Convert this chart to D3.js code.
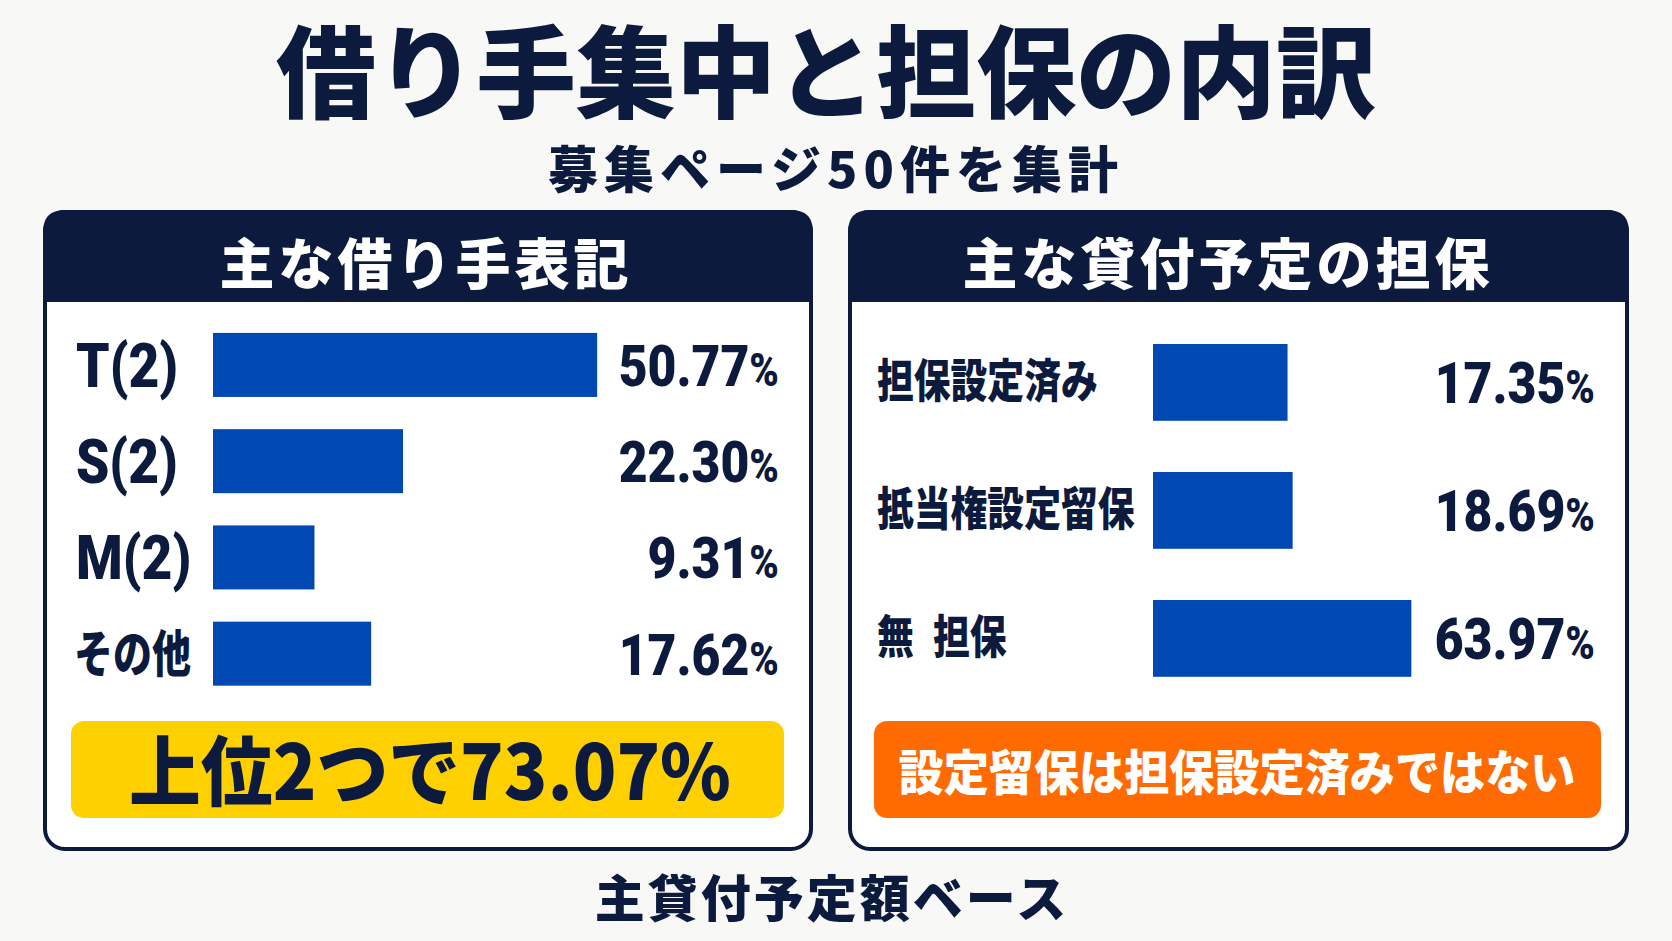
<!DOCTYPE html>
<html lang="ja">
<head>
<meta charset="utf-8">
<script src="https://cdn.jsdelivr.net/npm/d3@7"></script>
<style>
  html, body { margin: 0; padding: 0; background: #f7f7f6; }
  svg { display: block; }
</style>
</head>
<body>
<script>
// data
const borrowerLabels = ["T(2)", "S(2)", "M(2)", "その他"]
const borrowerShares = [50.77, 22.30, 9.31, 17.62]
const collateralLabels = ["担保設定済み", "抵当権設定留保", "無 担保"]
const collateralShares = [17.35, 18.69, 63.97]
const topTwoShare = 73.07

const W = 1672, H = 941
const navy = "#0c1a3d"
const blue = "#0048b4"
const cjk = "'Noto Sans CJK JP', 'Noto Sans CJK SC', sans-serif"
const latin = "Roboto, 'Liberation Sans', sans-serif"

const svg = d3.select("body").append("svg")
    .attr("width", W)
    .attr("height", H)

svg.append("rect")
    .attr("width", W)
    .attr("height", H)
    .attr("fill", "#f8f8f7")

// little helper so condensed text can be squeezed horizontally
function label(g, x, y, txt, o) {
    let t = g.append("g")
        .attr("transform", `translate(${x},${y}) scale(${o.sx || 1},1)`)
        .append("text")
        .attr("text-anchor", o.anchor || "start")
        .attr("font-family", o.font || cjk)
        .attr("font-weight", o.weight || 700)
        .attr("font-size", o.size)
        .attr("letter-spacing", o.ls || 0)
        .attr("fill", o.fill || navy)
    // a space in a label is drawn as a wider gap, as in the picture
    let parts = txt.split(" ")
    t.text(parts[0])
    parts.slice(1).forEach(p => t.append("tspan").attr("dx", o.gap || 10).text(p))
    return t
}

function pctText(g, x, y, v, o) {
    let t = label(g, x, y, v.toFixed(2), o)
    t.append("tspan")
        .attr("font-size", o.size * 0.8)
        .text("%")
    return t
}

// title + subtitle
label(svg, 826, 110, "借り手集中と担保の内訳", {anchor: "middle", size: 100, weight: 900})
label(svg, 836, 188, "募集ページ50件を集計", {anchor: "middle", size: 50, weight: 900, ls: 6})

// panels
function panel(x0, x1, title, titleX) {
    let g = svg.append("g")
    g.append("rect")
        .attr("x", x0)
        .attr("y", 212)
        .attr("width", x1 - x0)
        .attr("height", 637)
        .attr("rx", 20)
        .attr("fill", "#fff")
        .attr("stroke", navy)
        .attr("stroke-width", 4)
    g.append("path")
        .attr("fill", navy)
        .attr("d", `M${x0 - 2},302 V232 Q${x0 - 2},210 ${x0 + 20},210 H${x1 - 20} Q${x1 + 2},210 ${x1 + 2},232 V302 Z`)
    label(g, titleX, 284, title, {anchor: "middle", size: 55, weight: 900, ls: 4, fill: "#fff"})
    return g
}

let left = panel(45, 811, "主な借り手表記", 426)
let right = panel(850, 1627, "主な貸付予定の担保", 1228)

// left bars
let yL = d3.scaleBand()
    .domain(borrowerLabels)
    .range([316.8, 701.8])
    .paddingInner(0.335)
    .paddingOuter(0.1675)
let xL = d3.scaleLinear()
    .domain([0, 55])
    .range([38, 413])

let rowsL = left.selectAll("g.row")
    .data(borrowerLabels.map((k, i) => ({k: k, v: borrowerShares[i]})))
    .join("g")
    .attr("class", "row")

rowsL.append("rect")
    .attr("x", 213)
    .attr("y", d => yL(d.k))
    .attr("width", d => xL(d.v))
    .attr("height", yL.bandwidth())
    .attr("fill", blue)

rowsL.each(function (d) {
    let cy = yL(d.k) + yL.bandwidth() / 2
    let g = d3.select(this)
    if (/^[A-Z]/.test(d.k)) {
        label(g, 76, cy + 22, d.k, {size: 62, font: latin, weight: 900, sx: 0.86})
    } else {
        label(g, 74, cy + 18, d.k, {size: 50, weight: 900, sx: 0.78})
    }
    pctText(g, 779, cy + 21, d.v, {anchor: "end", size: 58, font: latin, weight: 900, sx: 0.86})
})

// right bars
let yR = d3.scaleBand()
    .domain(collateralLabels)
    .range([318.4, 702.4])
    .paddingInner(0.4)
    .paddingOuter(0.2)
let xR = d3.scaleSqrt()
    .domain([0, 64])
    .range([0, 258.4])

let rowsR = right.selectAll("g.row")
    .data(collateralLabels.map((k, i) => ({k: k, v: collateralShares[i]})))
    .join("g")
    .attr("class", "row")

rowsR.append("rect")
    .attr("x", 1153)
    .attr("y", d => yR(d.k))
    .attr("width", d => xR(d.v))
    .attr("height", yR.bandwidth())
    .attr("fill", blue)

rowsR.each(function (d) {
    let cy = yR(d.k) + yR.bandwidth() / 2
    let g = d3.select(this)
    label(g, 877, cy + 15, d.k, {size: 46, weight: 900, sx: 0.8, gap: 24})
    pctText(g, 1595, cy + 21, d.v, {anchor: "end", size: 58, font: latin, weight: 900, sx: 0.86})
})

// callouts
left.append("rect")
    .attr("x", 71)
    .attr("y", 721)
    .attr("width", 713)
    .attr("height", 97)
    .attr("rx", 13)
    .attr("fill", "#ffd000")
label(left, 430, 800, `上位2つで${topTwoShare.toFixed(2)}%`, {anchor: "middle", size: 76, weight: 900, sx: 0.945})

right.append("rect")
    .attr("x", 874)
    .attr("y", 721)
    .attr("width", 727)
    .attr("height", 97)
    .attr("rx", 13)
    .attr("fill", "#ff6b00")
label(right, 1237, 790, "設定留保は担保設定済みではない", {anchor: "middle", size: 48, weight: 900, sx: 0.94, fill: "#fff"})

// footer note
label(svg, 832, 917, "主貸付予定額ベース", {anchor: "middle", size: 50, weight: 900, ls: 3})
</script>
</body>
</html>
